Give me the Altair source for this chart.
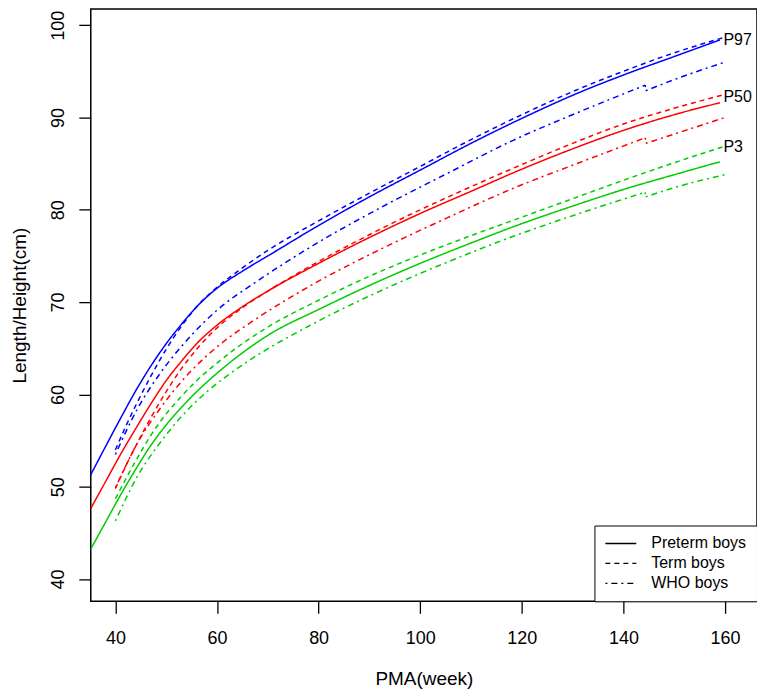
import altair as alt
import pandas as pd

# ---------------- data ----------------
weeks_pre = [35, 38, 41, 44, 47, 50, 53, 56, 60, 65, 70, 80, 90, 100, 110, 120, 130, 140, 150, 159]
pre_p97 = [51.15, 54.3, 57.4, 60.4, 63.1, 65.5, 67.6, 69.5, 71.5, 73.35, 75.0, 78.3, 81.4, 84.3, 87.2, 89.9, 92.4, 94.6, 96.6, 98.4]
pre_p50 = [47.5, 50.5, 53.5, 56.3, 59.0, 61.5, 63.6, 65.5, 67.5, 69.5, 71.2, 74.2, 77.0, 79.6, 82.0, 84.4, 86.6, 88.6, 90.3, 91.6]
pre_p3 = [43.1, 46.1, 49.1, 51.9, 54.5, 56.7, 58.6, 60.3, 62.3, 64.5, 66.4, 69.2, 71.8, 74.2, 76.4, 78.5, 80.4, 82.2, 83.8, 85.2]

weeks_term = [40, 42, 44, 47, 50, 53, 56, 60, 65, 70, 80, 90, 100, 110, 120, 130, 140, 150, 160]
term_p97 = [54.0, 56.5, 58.8, 62.0, 64.9, 67.4, 69.5, 71.6, 73.7, 75.6, 78.8, 81.8, 84.7, 87.6, 90.3, 92.8, 95.0, 97.0, 98.7]
term_p50 = [49.8, 52.2, 54.4, 57.5, 60.3, 62.8, 64.9, 67.2, 69.4, 71.2, 74.4, 77.3, 80.0, 82.5, 84.9, 87.2, 89.3, 91.0, 92.5]
term_p3 = [48.7, 50.8, 52.8, 55.6, 57.9, 59.8, 61.5, 63.4, 65.5, 67.3, 70.2, 72.8, 75.1, 77.2, 79.2, 81.2, 83.2, 85.1, 86.9]

# WHO: length up to 2 years (144.3 weeks PMA), height afterwards
weeks_who = [40, 44.3, 48.7, 53, 57.4, 61.7, 66.1, 79.1, 92.1, 105.2, 118.2, 131.3, 144.3, 144.4, 150, 160]
who_p97 = [53.5, 58.4, 62.2, 65.2, 67.8, 69.9, 71.6, 76.2, 80.2, 83.9, 87.5, 90.6, 93.5, 92.9, 94.1, 96.0]
who_p50 = [49.9, 54.7, 58.4, 61.4, 63.9, 65.9, 67.6, 72.0, 75.7, 79.1, 82.3, 85.1, 87.8, 87.2, 88.2, 90.0]
who_p3 = [46.3, 51.1, 54.7, 57.6, 60.0, 61.9, 63.6, 67.7, 71.2, 74.3, 77.1, 79.6, 81.9, 81.4, 82.4, 83.8]
who_switch = 12  # index of last length point

groups = ["Preterm boys", "Term boys", "WHO boys"]
percentiles = ["P97", "P50", "P3"]
label_y = [98.4, 92.2, 86.8]
x_ticks = [40, 60, 80, 100, 120, 140, 160]
y_ticks = [40, 50, 60, 70, 80, 90, 100]

series = [
    ("Preterm boys", "P97", weeks_pre, pre_p97),
    ("Preterm boys", "P50", weeks_pre, pre_p50),
    ("Preterm boys", "P3", weeks_pre, pre_p3),
    ("Term boys", "P97", weeks_term, term_p97),
    ("Term boys", "P50", weeks_term, term_p50),
    ("Term boys", "P3", weeks_term, term_p3),
    ("WHO boys", "P97", weeks_who, who_p97),
    ("WHO boys", "P50", weeks_who, who_p50),
    ("WHO boys", "P3", weeks_who, who_p3),
]
rows = []
for g, p, xs, ys in series:
    pts = list(zip(xs, ys))
    if g == "WHO boys":
        segs = [pts[:who_switch + 1], pts[who_switch:who_switch + 2], pts[who_switch + 1:]]
    else:
        segs = [pts]
    for si, seg in enumerate(segs):
        for i, (xv, yv) in enumerate(seg):
            rows.append({"week": xv, "cm": yv, "group": g, "pct": p,
                         "seg": f"{g}-{p}-{si}", "ord": i})
df = pd.DataFrame(rows)

labels = pd.DataFrame({"week": [159.7] * 3, "cm": label_y, "txt": percentiles})

FONT = "Liberation Sans"

xenc = alt.X(
    "week:Q",
    scale=alt.Scale(domain=[35.15, 166.3], nice=False, zero=False),
    axis=alt.Axis(values=x_ticks, title="PMA(week)", grid=False, domain=False,
                  tickColor="black", tickSize=12, tickWidth=1.3,
                  labelFont=FONT, labelFontSize=18, labelColor="black", labelPadding=16,
                  titleFont=FONT, titleFontSize=19, titleFontWeight="normal",
                  titleColor="black", titlePadding=22),
)
yenc = alt.Y(
    "cm:Q",
    scale=alt.Scale(domain=[37.59, 101.76], nice=False, zero=False),
    axis=alt.Axis(values=y_ticks, title="Length/Height(cm)", grid=False, domain=False,
                  tickColor="black", tickSize=12, tickWidth=1.3,
                  labelFont=FONT, labelFontSize=18, labelColor="black", labelPadding=11,
                  labelAngle=270,
                  titleFont=FONT, titleFontSize=19, titleFontWeight="normal",
                  titleColor="black", titlePadding=20),
)

lines = alt.Chart(df).mark_line(strokeWidth=1.5, interpolate="monotone", clip=True).encode(
    x=xenc,
    y=yenc,
    color=alt.Color("pct:N", scale=alt.Scale(domain=percentiles,
                                             range=["#0000FF", "#FF0000", "#00CD00"]),
                    legend=None),
    strokeDash=alt.StrokeDash(
        "group:N",
        scale=alt.Scale(domain=groups, range=[[1, 0], [5, 4], [2, 4, 6, 4]]),
        legend=alt.Legend(title=None, orient="bottom-right", offset=0,
                          strokeColor="black", fillColor="white", padding=10,
                          symbolType="stroke", symbolStrokeColor="black",
                          symbolStrokeWidth=1.3, symbolSize=961, clipHeight=16,
                          labelFont=FONT, labelFontSize=16, labelColor="black",
                          labelOffset=14, rowPadding=4),
    ),
    detail="seg:N",
    order="ord:Q",
)

texts = alt.Chart(labels).mark_text(align="left", baseline="middle", fontSize=16,
                                    font=FONT, color="black").encode(
    x=alt.X("week:Q"), y=alt.Y("cm:Q"), text="txt:N"
)

chart = alt.layer(lines, texts).properties(
    width=668, height=594,
    autosize=alt.AutoSizeParams(type="none"),
    padding={"left": 83, "top": 0, "right": 0, "bottom": 88},
).configure_view(stroke="black", strokeWidth=1.5)

chart.save("out.html", embed_options={"renderer": "svg", "actions": False})
